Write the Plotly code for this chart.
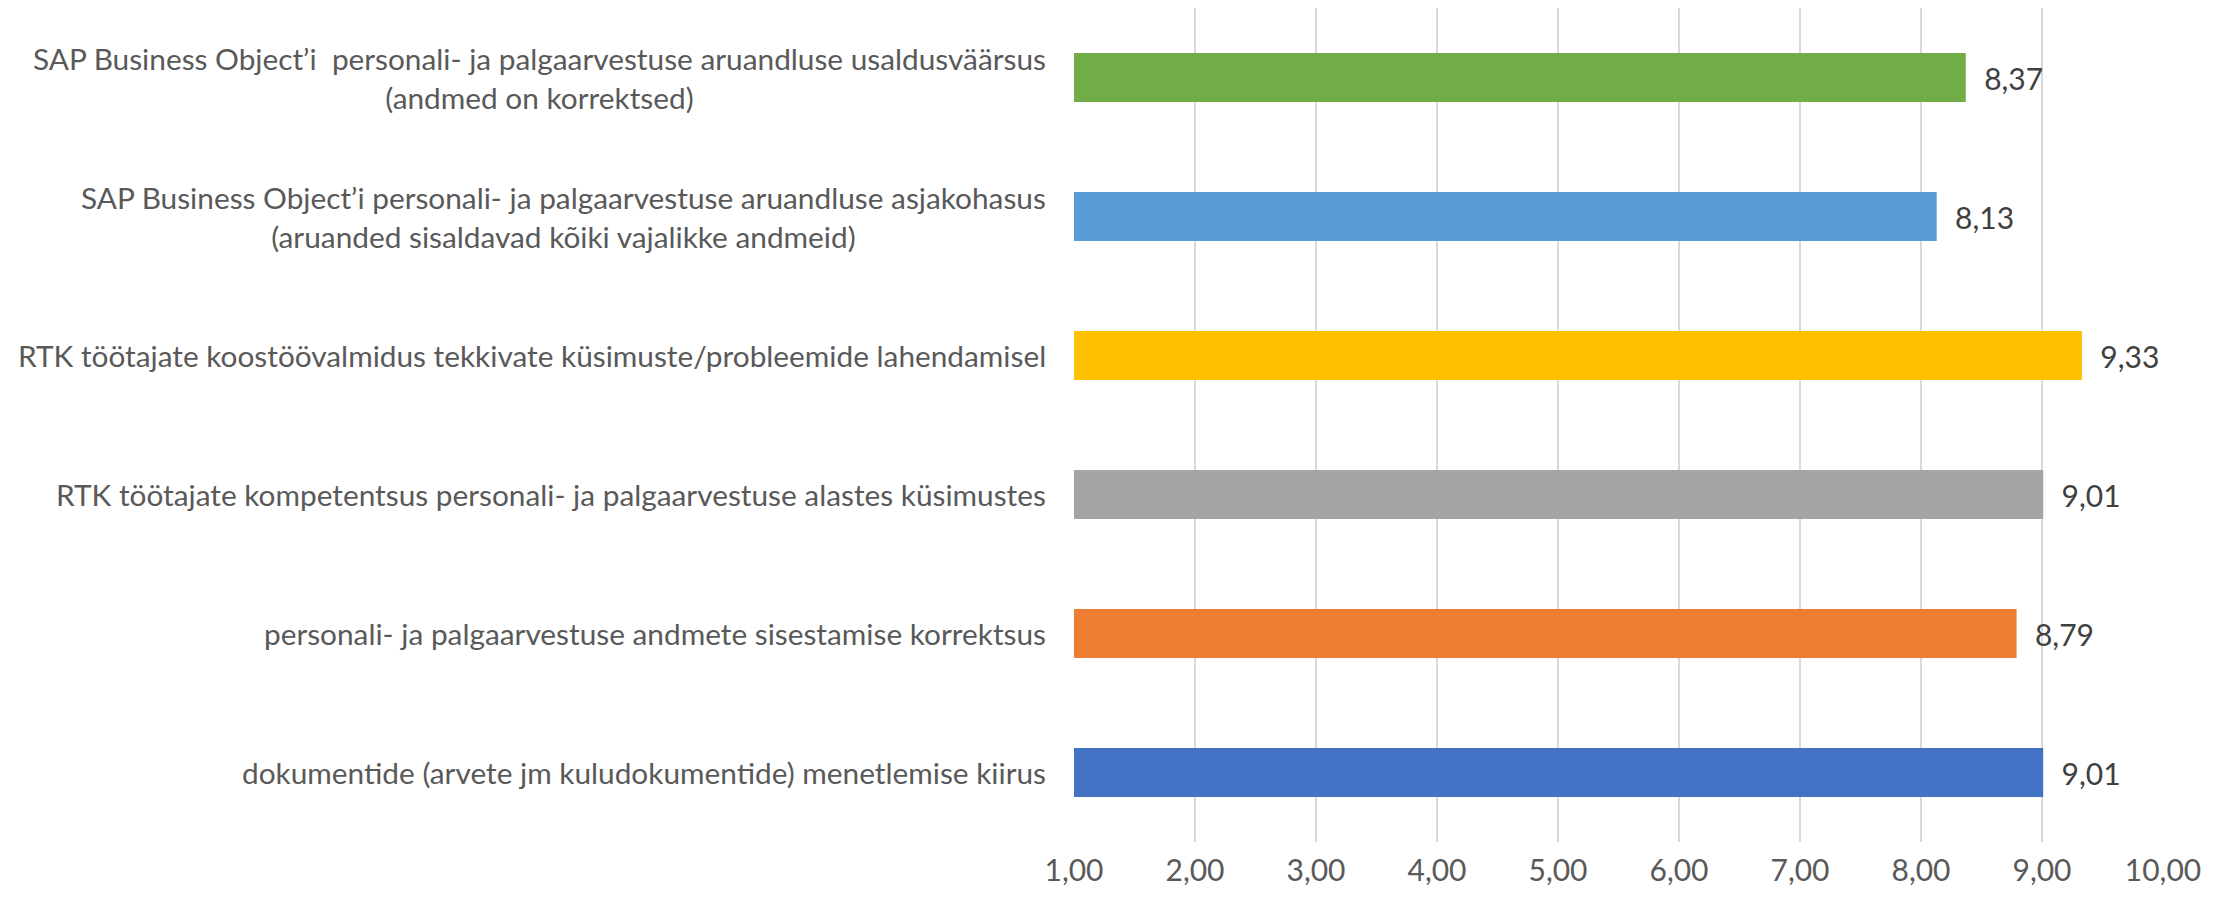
import plotly.graph_objects as go

CATEGORIES = [
    "SAP Business Object’i  personali- ja palgaarvestuse aruandluse usaldusväärsus<br>(andmed on korrektsed)",
    "SAP Business Object’i personali- ja palgaarvestuse aruandluse asjakohasus<br>(aruanded sisaldavad kõiki vajalikke andmeid)",
    "RTK töötajate koostöövalmidus tekkivate küsimuste/probleemide lahendamisel",
    "RTK töötajate kompetentsus personali- ja palgaarvestuse alastes küsimustes",
    "personali- ja palgaarvestuse andmete sisestamise korrektsus",
    "dokumentide (arvete jm kuludokumentide) menetlemise kiirus",
]
VALUES = [8.37, 8.13, 9.33, 9.01, 8.79, 9.01]
BAR_COLORS = ["#70AD47", "#5B9BD5", "#FFC000", "#A5A5A5", "#ED7D31", "#4472C4"]
TICK_VALUES = [1, 2, 3, 4, 5, 6, 7, 8, 9, 10]

FONT = "Lato, 'Open Sans', sans-serif"
GRID = "#D9D9D9"

ids = list(range(len(CATEGORIES)))

fig = go.Figure(
    go.Bar(
        x=VALUES,
        y=ids,
        orientation="h",
        marker={"color": BAR_COLORS, "line": {"width": 0}},
        width=0.353,
        text=VALUES,
        texttemplate="\u00a0\u00a0%{x:.2f}",
        textposition="outside",
        textfont={"family": FONT, "size": 30, "color": "#404040"},
        cliponaxis=False,
    )
)

for i, label in enumerate(CATEGORIES):
    fig.add_annotation(
        text=label,
        x=0,
        xref="paper",
        y=i,
        yref="y",
        xanchor="right",
        yanchor="middle",
        align="center",
        xshift=-26,
        showarrow=False,
        font={"family": FONT, "size": 29.8, "color": "#595959"},
    )

# the page body adds an 8px margin, so the figure is drawn 8px smaller
fig.update_layout(
    width=2207,
    height=883,
    separators=", ",
    paper_bgcolor="white",
    plot_bgcolor="white",
    showlegend=False,
    margin={"l": 1066, "r": 52, "t": 0, "b": 49},
    font={"family": FONT, "color": "#595959"},
)
fig.update_xaxes(
    range=[1, 10],
    tickvals=TICK_VALUES,
    tickformat=".2f",
    showgrid=True,
    gridcolor=GRID,
    gridwidth=1.5,
    showline=False,
    zeroline=False,
    ticks="",
    automargin=False,
    ticklabelstandoff=8,
    tickfont={"family": FONT, "size": 30, "color": "#595959"},
)
fig.update_yaxes(
    range=[5.5, -0.5],
    showticklabels=False,
    showgrid=False,
    zeroline=False,
    showline=False,
    ticks="",
)

fig.write_html("out.html")
